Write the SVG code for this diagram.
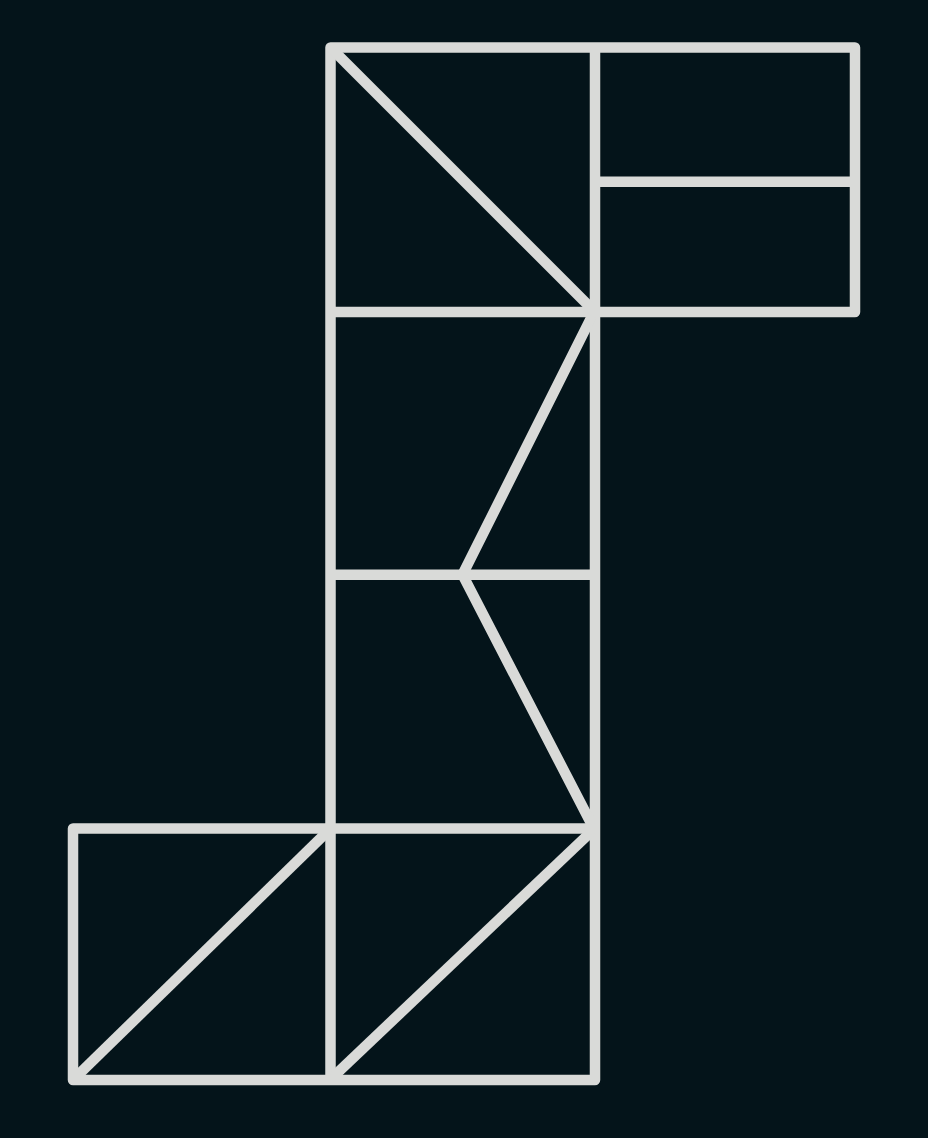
<svg xmlns="http://www.w3.org/2000/svg" width="928" height="1138" viewBox="0 0 928 1138">
<style>
.ln{fill:none;stroke:#d9dad8;stroke-width:10.5;stroke-linejoin:round;stroke-linecap:butt}
</style>
<rect width="928" height="1138" fill="#04141a"/>
<g id="frame">
<path class="ln" d="M330.5,1080 V47.5 H855 V312 H595 M595,47.5 V1080 H73 V828.5 H595"/>
</g>
<g id="cells">
<path class="ln" d="M595,181.7 H855"/>
<path class="ln" d="M330.5,312 H595"/>
<path class="ln" d="M330.5,574.7 H595"/>
</g>
<g id="connectors">
<path class="ln" d="M330.5,47.5 L593,310"/>
<path class="ln" d="M592,316 L462.5,574.7 L592,825"/>
<path class="ln" d="M592,831 L333,1077"/>
<path class="ln" d="M327.5,831.5 L76,1077"/>
</g>
</svg>
